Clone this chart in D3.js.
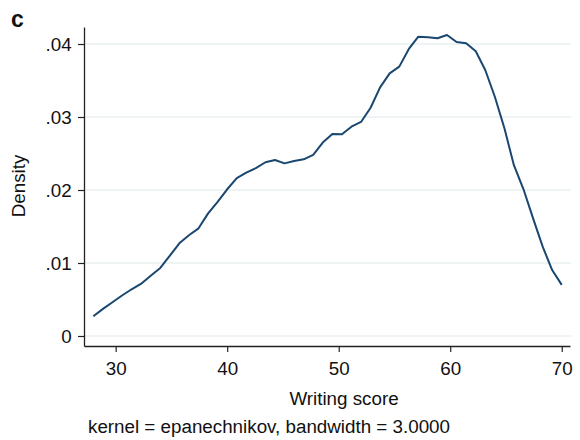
<!DOCTYPE html>
<html>
<head>
<meta charset="utf-8">
<script src="https://cdn.jsdelivr.net/npm/d3@7"></script>
<style>
  html, body { margin: 0; padding: 0; background: #fff; }
  svg { display: block; font-family: "Liberation Sans", Arial, Helvetica, sans-serif; }
</style>
</head>
<body>
<svg id="chart" width="580" height="440"></svg>
<script>
// Kernel density estimate of writing scores, evaluated on 50 points from 28 to 70
const scores = [
  28.00, 28.86, 29.71, 30.57, 31.43, 32.29, 33.14, 34.00, 34.86, 35.71,
  36.57, 37.43, 38.29, 39.14, 40.00, 40.86, 41.71, 42.57, 43.43, 44.29,
  45.14, 46.00, 46.86, 47.71, 48.57, 49.43, 50.29, 51.14, 52.00, 52.86,
  53.71, 54.57, 55.43, 56.29, 57.14, 58.00, 58.86, 59.71, 60.57, 61.43,
  62.29, 63.14, 64.00, 64.86, 65.71, 66.57, 67.43, 68.29, 69.14, 70.00
];
const density = [
  0.00270, 0.00371, 0.00463, 0.00555, 0.00640, 0.00717, 0.00825, 0.00932, 0.01100, 0.01270,
  0.01380, 0.01475, 0.01680, 0.01836, 0.02010, 0.02164, 0.02237, 0.02300, 0.02380, 0.02411,
  0.02365, 0.02397, 0.02420, 0.02480, 0.02650, 0.02767, 0.02763, 0.02867, 0.02932, 0.03127,
  0.03406, 0.03598, 0.03690, 0.03932, 0.04100, 0.04092, 0.04078, 0.04123, 0.04027, 0.04010,
  0.03900, 0.03644, 0.03278, 0.02845, 0.02340, 0.02010, 0.01612, 0.01224, 0.00904, 0.00700
];
const xTicks = [30, 40, 50, 60, 70];
const yTicks = [0, 0.01, 0.02, 0.03, 0.04];
const yTickLabels = ["0", ".01", ".02", ".03", ".04"];

const xTitle = "Writing score";
const yTitle = "Density";
const note = "kernel = epanechnikov, bandwidth = 3.0000";
const panel = "c";

const fontSize = 18.8;
const svg = d3.select("#chart");
const box = { left: 84, right: 570, top: 27, bottom: 346 };

const x = d3.scaleLinear().domain([27.16, 70.74]).range([box.left, box.right]);
const y = d3.scaleLinear().domain([-0.00137, 0.04233]).range([box.bottom, box.top]);

// horizontal grid lines
svg.append("g")
  .selectAll("line")
  .data(yTicks)
  .join("line")
  .attr("x1", box.left)
  .attr("x2", box.right + 1)
  .attr("y1", d => y(d))
  .attr("y2", d => y(d))
  .attr("stroke", "#e8eff1")
  .attr("stroke-width", 1.6);

// density curve
const line = d3.line()
  .x((d, i) => x(scores[i]))
  .y(d => y(d));

svg.append("path")
  .datum(density)
  .attr("d", line)
  .attr("fill", "none")
  .attr("stroke", "#1a476f")
  .attr("stroke-width", 2)
  .attr("stroke-linejoin", "round");

// axes
const xAxis = d3.axisBottom(x)
  .tickValues(xTicks)
  .tickSizeInner(6)
  .tickSizeOuter(0)
  .tickPadding(9.5);

const yAxis = d3.axisLeft(y)
  .tickValues(yTicks)
  .tickFormat((d, i) => yTickLabels[i])
  .tickSizeInner(6)
  .tickSizeOuter(0)
  .tickPadding(6.3);

const gx = svg.append("g")
  .attr("transform", `translate(0,${box.bottom})`)
  .call(xAxis);

const gy = svg.append("g")
  .attr("transform", `translate(${box.left},0)`)
  .call(yAxis);

[gx, gy].forEach(g => {
  g.select(".domain").attr("stroke", "#222").attr("stroke-width", 1.3);
  g.selectAll(".tick line").attr("stroke", "#222").attr("stroke-width", 1.2);
  g.selectAll(".tick text")
    .attr("fill", "#111")
    .attr("font-size", fontSize)
    .attr("font-family", "Liberation Sans, Arial, sans-serif");
});

// titles
svg.append("text")
  .attr("x", 344)
  .attr("y", 404.5)
  .attr("text-anchor", "middle")
  .attr("font-size", fontSize)
  .attr("fill", "#111")
  .text(xTitle);

svg.append("text")
  .attr("transform", `translate(25,186) rotate(-90)`)
  .attr("text-anchor", "middle")
  .attr("font-size", fontSize)
  .attr("fill", "#111")
  .text(yTitle);

svg.append("text")
  .attr("x", 88)
  .attr("y", 433)
  .attr("font-size", fontSize)
  .attr("fill", "#111")
  .text(note);

svg.append("text")
  .attr("x", 11)
  .attr("y", 27)
  .attr("font-size", 23)
  .attr("font-weight", "bold")
  .attr("fill", "#111")
  .text(panel);
</script>
</body>
</html>
